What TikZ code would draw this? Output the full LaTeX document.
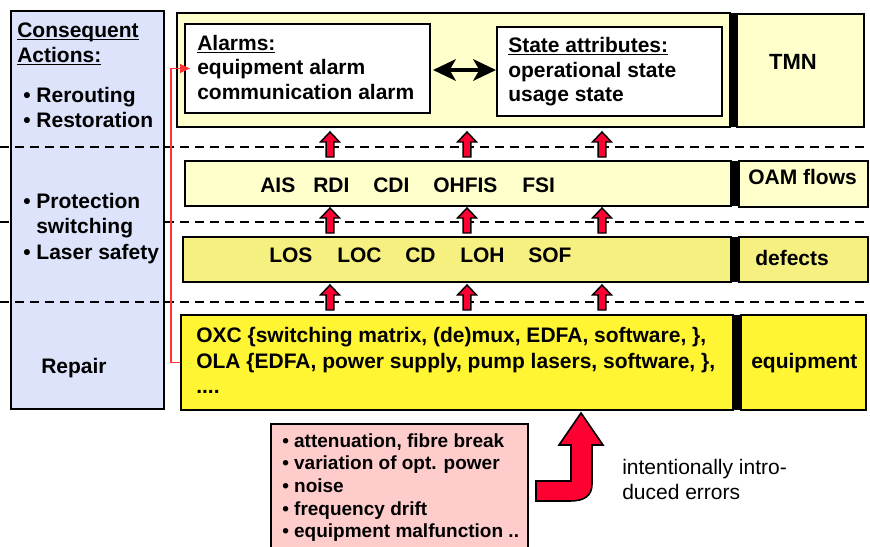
\documentclass[tikz,border=0pt]{standalone}
\usepackage{fontspec}
\setmainfont{Liberation Sans}
\usetikzlibrary{fit,arrows.meta}
\definecolor{panelblue}{HTML}{DCE3FA}
\definecolor{paleyel}{HTML}{FFFFCC}
\definecolor{defyel}{HTML}{F5F07F}
\definecolor{eqyel}{HTML}{FFF533}
\definecolor{pinkbox}{HTML}{FFCCCC}
\definecolor{arrred}{HTML}{FF0033}
\definecolor{linered}{HTML}{FF3333}
\newcommand\myul[1]{\setbox0\hbox{#1}\rlap{\rule[-2.6pt]{\wd0}{1.4pt}}\box0}
\newcommand\smallarr[3]{\filldraw[smallarrow] (#1,#2) -- (#1+9.5,#2+10) -- (#1+3.8,#2+10) -- (#1+3.8,#3) -- (#1-3.8,#3) -- (#1-3.8,#2+10) -- (#1-9.5,#2+10) -- cycle;}
\tikzset{
  frame/.style={draw=black, line width=1.5pt, inner sep=0pt},
  lbl/.style={inner sep=0pt, anchor=base west, font=\bfseries\fontsize{15.75pt}{18.4pt}\selectfont},
  lblc/.style={inner sep=0pt, anchor=base, font=\bfseries\fontsize{16.5pt}{19pt}\selectfont},
  pinktxt/.style={inner sep=0pt, anchor=base west, font=\bfseries\fontsize{14.25pt}{17pt}\selectfont},
  plaintxt/.style={inner sep=0pt, anchor=base west, font=\fontsize{15.75pt}{18.4pt}\selectfont},
  dashln/.style={line width=1.9pt, dash pattern=on 6.75pt off 4.5pt},
  smallarrow/.style={fill=arrred, draw=black, line width=1.1pt, line join=miter},
  blackbar/.style={fill=black, draw=none},
  redconn/.style={draw=linered, line width=1.4pt, -{Triangle[length=7.5pt,width=6.5pt]}},
  dblarrow/.style={line width=3.2pt, {Stealth[length=17pt,width=16pt,inset=4.5pt]}-{Stealth[length=17pt,width=16pt,inset=4.5pt]}},
  bigarrow/.style={fill=arrred, draw=black, line width=1.2pt, line join=miter}
}
\begin{document}
\begin{tikzpicture}[x=0.75pt,y=-0.75pt]
\useasboundingbox (0,0) rectangle (870,546);
% dashed separators
\draw[dashln] (0,222) -- (870,222);
\node[frame, fill=panelblue, fit={(11,11) (164,409)}] (panel) {};
\draw[dashln] (0,147) -- (870,147);
\draw[dashln] (0,302) -- (870,302);

% left panel texts
\node[lbl] (ca1) at (17,37) {\myul{Consequent}};
\node[lbl] (ca2) at (17,62) {\myul{Actions:}};
\node[lbl] (ca3) at (23,102) {\textbullet\ Rerouting};
\node[lbl] (ca4) at (23,127) {\textbullet\ Restoration};
\node[lbl] (ca5) at (23,208) {\textbullet\ Protection};
\node[lbl] (ca6) at (36,233) {switching};
\node[lbl] (ca7) at (23,259) {\textbullet\ Laser safety};
\node[lbl] (ca8) at (41,373) {Repair};

% TMN row
\node[frame, fill=paleyel, fit={(177,13) (730,127)}] (tmnrow) {};
\node[frame, fill=white, fit={(185,24) (430,113)}] (alarms) {};
\node[frame, fill=white, fit={(497,27) (722,116)}] (state) {};
\node[frame, fill=paleyel, fit={(737,14) (864,127)}] (tmn) {};
\fill[blackbar] (729,13) rectangle (737,127);
\node[lbl] (al1) at (197,50) {\myul{Alarms:}};
\node[lbl] (al2) at (197,74.5) {equipment alarm};
\node[lbl] (al3) at (197,99.5) {communication alarm};
\node[lbl] (st1) at (508,52) {\myul{State attributes:}};
\node[lbl] (st2) at (508,77) {operational state};
\node[lbl] (st3) at (508,101) {usage state};
\node[lblc] (tmnt) at (793,69) {TMN};
\coordinate (dbl) at (0,70);
\draw[dblarrow, shorten <=1.5pt] (alarms.east |- dbl) -- (state.west |- dbl);

% OAM row
\node[frame, fill=paleyel, fit={(185,161) (731,206)}] (oamrow) {};
\node[frame, fill=paleyel, fit={(739,161) (868,207)}] (oam) {};
\fill[blackbar] (730,161) rectangle (738,206);
\node[lbl] (o1) at (260,192) {AIS};
\node[lbl] (o2) at (313,192) {RDI};
\node[lbl] (o3) at (373,192) {CDI};
\node[lbl] (o4) at (433,192) {OHFIS};
\node[lbl] (o5) at (522,192) {FSI};
\node[lbl] (oamt) at (748,184) {OAM flows};

% defects row
\node[frame, fill=defyel, fit={(183,237) (731,282)}] (defrow) {};
\node[frame, fill=defyel, fit={(739,237) (868,282)}] (def) {};
\fill[blackbar] (730,237) rectangle (738,282);
\node[lbl] (d1) at (269,262) {LOS};
\node[lbl] (d2) at (337,262) {LOC};
\node[lbl] (d3) at (405,262) {CD};
\node[lbl] (d4) at (460,262) {LOH};
\node[lbl] (d5) at (528,262) {SOF};
\node[lbl] (deft) at (755,265) {defects};

% equipment row
\node[frame, fill=eqyel, fit={(181,315) (733,410)}] (eqrow) {};
\node[frame, fill=eqyel, fit={(741,315) (866,410)}] (eq) {};
\fill[blackbar] (732,315) rectangle (741,410);
\node[lbl] (e1) at (196,342) {OXC \{switching matrix, (de)mux, EDFA, software, \},};
\node[lbl] (e2) at (196,368) {OLA \{EDFA, power supply, pump lasers, software, \},};
\node[lbl] (e3) at (196,393) {....};
\node[lbl] (eqt) at (751,368) {equipment};

% small red arrows
\foreach \xx in {330,467,602}{
  \smallarr{\xx}{132}{157}
  \smallarr{\xx}{208}{233}
  \smallarr{\xx}{285}{310}
}

% red feedback line
\coordinate (alarmtip) at (190,68.5);
\coordinate (bend) at (171,0);
\draw[redconn] (eqrow.west) -| (bend |- alarmtip) -- (alarmtip);

% causes box
\node[frame, fill=pinkbox, fit={(271,424) (528,552)}] (causes) {};
\node[pinktxt] (p1) at (282,447) {\textbullet\ attenuation, fibre break};
\node[pinktxt] (p2) at (282,469.5) {\textbullet\ variation of opt. power};
\node[pinktxt] (p3) at (282,492) {\textbullet\ noise};
\node[pinktxt] (p4) at (282,515) {\textbullet\ frequency drift};
\node[pinktxt] (p5) at (282,537.5) {\textbullet\ equipment malfunction ..};

% big bent arrow
\filldraw[bigarrow] (536,481) -- (571,481) -- (571,445) -- (559,445) -- (581,413)
  -- (603,445) -- (592,445) -- (592,484) .. controls (592,496) and (584,501) .. (570,501)
  -- (536,501) -- cycle;

\node[plaintxt] (i1) at (622,474) {intentionally intro-};
\node[plaintxt] (i2) at (622,499) {duced errors};
\end{tikzpicture}
\end{document}
